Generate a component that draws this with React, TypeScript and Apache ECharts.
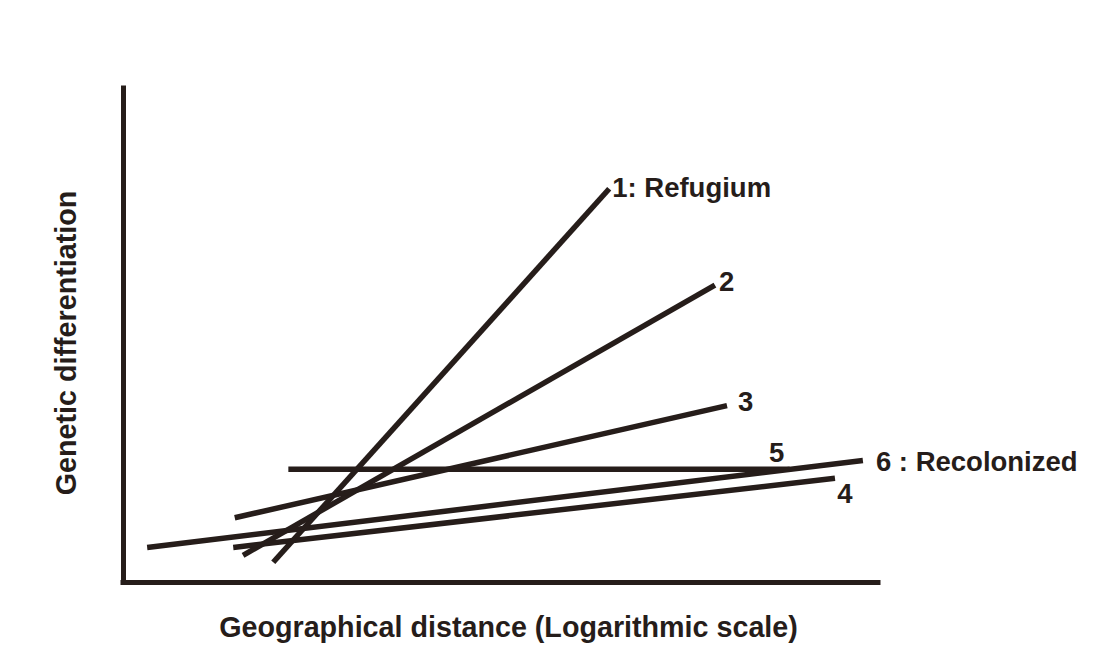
import React, { useEffect, useRef } from "react";
import * as echarts from "echarts";

// Each line: start point and end point in data units (x: 0-100, y: 0-100)
const lineNames = ["1: Refugium", "2", "3", "5", "6 : Recolonized", "4"];
const startX = [19.9, 15.9, 14.8, 21.9, 3.2, 14.6];
const startY = [4.0, 5.4, 13.0, 22.8, 7.0, 7.0];
const endX = [64.4, 78.4, 80.0, 88.3, 98.0, 94.3];
const endY = [79.6, 60.1, 35.7, 22.8, 24.6, 21.0];

const xTitle = "Geographical distance (Logarithmic scale)";
const yTitle = "Genetic differentiation";

const INK = "#261d1a";
const FONT = "'Liberation Sans', Arial, Helvetica, sans-serif";
const LABEL_FS = 27.5;
const TITLE_FS = 28.7;

// label placement per line (style only)
const labelStyles: any[] = [
  { position: "right", distance: 3, offset: [0, -1] },
  { position: "right", distance: 4, offset: [0, -4] },
  { position: "right", distance: 11, offset: [0, -4] },
  { position: "top", distance: 3, offset: [-13, 0] },
  { position: "right", distance: 13, offset: [0, 1] },
  { position: "bottom", distance: 1, offset: [10, 0] },
];

export default function App() {
  const ref = useRef<HTMLDivElement>(null);
  useEffect(() => {
    if (!ref.current) return;
    const chart = echarts.init(ref.current, null, { renderer: "svg" });
    const series = lineNames.map((name, i) => ({
      type: "line",
      name,
      symbol: "circle",
      symbolSize: 0,
      silent: true,
      lineStyle: { color: INK, width: 5.5, cap: "butt" },
      itemStyle: { color: INK },
      data: [
        { value: [startX[i], startY[i]] },
        {
          value: [endX[i], endY[i]],
          label: {
            show: true,
            formatter: name,
            color: INK,
            fontFamily: FONT,
            fontWeight: "bold",
            fontSize: LABEL_FS,
            ...labelStyles[i],
          },
        },
      ],
    }));
    chart.setOption({
      animation: false,
      backgroundColor: "#ffffff",
      grid: { left: 123, right: 231, top: 88, bottom: 59, containLabel: false },
      xAxis: {
        type: "value",
        min: 0,
        max: 100,
        name: xTitle,
        nameLocation: "middle",
        nameGap: 30,
        nameTextStyle: { color: INK, fontFamily: FONT, fontWeight: "bold", fontSize: TITLE_FS, padding: [0, 0, 0, 16] },
        axisLine: { show: true, onZero: false, lineStyle: { color: INK, width: 5, cap: "square" } },
        axisTick: { show: false },
        axisLabel: { show: false },
        splitLine: { show: false },
      },
      yAxis: {
        type: "value",
        min: 0,
        max: 100,
        name: yTitle,
        nameLocation: "middle",
        nameGap: 43,
        nameRotate: 90,
        nameTextStyle: { color: INK, fontFamily: FONT, fontWeight: "bold", fontSize: TITLE_FS, padding: [0, 16, 0, 0] },
        axisLine: { show: true, onZero: false, lineStyle: { color: INK, width: 5, cap: "square" } },
        axisTick: { show: false },
        axisLabel: { show: false },
        splitLine: { show: false },
      },
      series,
    });
    return () => chart.dispose();
  }, []);
  return (
    <div
      ref={ref}
      style={{ position: "fixed", left: 0, top: 0, width: 1109, height: 646 }}
    />
  );
}
